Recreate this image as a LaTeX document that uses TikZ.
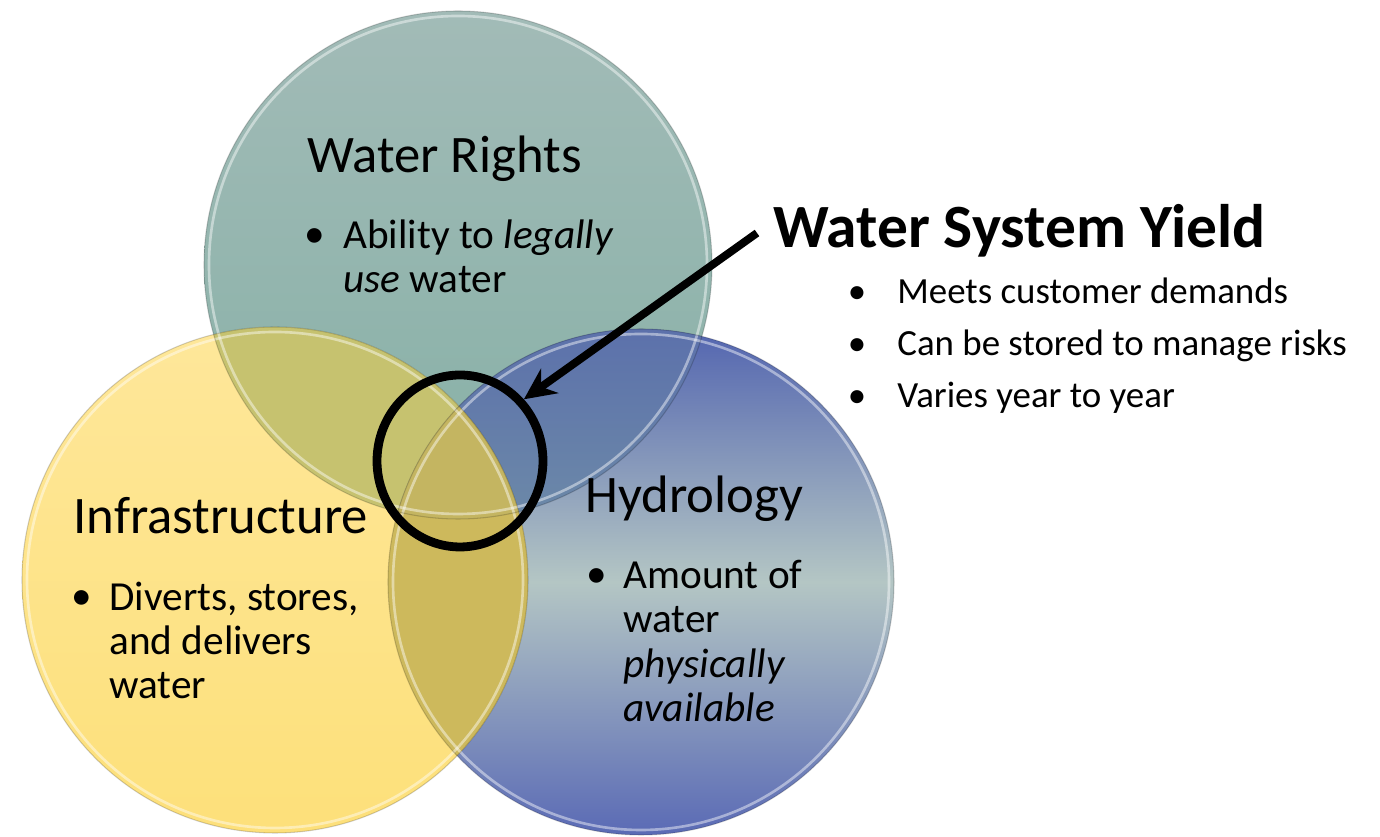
\documentclass[tikz,border=0pt]{standalone}
\usepackage{fontspec}
\setmainfont{Carlito}
\usetikzlibrary{arrows.meta,shapes.geometric}
\definecolor{WRTop}{HTML}{A2BBB7}
\definecolor{WRBottom}{HTML}{86B0A6}
\definecolor{INTop}{HTML}{FEE79A}
\definecolor{INBottom}{HTML}{FDE07A}
\definecolor{HYTop}{HTML}{5365B0}
\definecolor{HYMid}{HTML}{B4C6C4}
\definecolor{HYBottom}{HTML}{5A6AB5}
\definecolor{WRxINFill}{HTML}{C6C26F}
\definecolor{WRxHYTop}{HTML}{5C71AB}
\definecolor{WRxHYBottom}{HTML}{6C89A8}
\definecolor{INxHYFill}{HTML}{CDB95C}
\definecolor{AllFill}{HTML}{C4B561}

\begin{document}
\begin{tikzpicture}[x=0.02cm,y=0.02cm,
  rim/.style={draw=white,draw opacity=.45,line width=1.5pt},
  edge/.style={draw=black,draw opacity=.18,line width=.6pt},
  head/.style={font=\fontsize{30}{36}\selectfont,anchor=base west,inner sep=0pt},
  note/.style={font=\fontsize{23.5}{25.3}\selectfont,anchor=base west,inner sep=0pt,align=left},
  dot/.style={font=\fontsize{23.5}{25.3}\selectfont,anchor=base,inner sep=0pt},
  side/.style={font=\fontsize{21}{25}\selectfont,anchor=base west,inner sep=0pt}]
\path[use as bounding box] (0,0) rectangle (1380,837);
\def\wrc{(458,572) circle (254)}
\def\inc{(275,257) circle (253)}
\def\hyc{(641,255) circle (253)}
% circles
\shade[top color=WRTop,bottom color=WRBottom] \wrc;
\shade[top color=HYTop,bottom color=HYBottom,middle color=HYMid] \hyc;
\shade[top color=INTop,bottom color=INBottom] \inc;
% overlaps
\begin{scope}
\clip \wrc;
\fill[WRxINFill] \inc;
\clip \hyc;
\shade[top color=WRxHYTop,bottom color=WRxHYBottom] (388,318) rectangle (712,508);
\end{scope}
\begin{scope}
\clip \hyc;
\fill[INxHYFill] \inc;
\end{scope}
\begin{scope}
\clip \wrc;
\clip \hyc;
\fill[AllFill] \inc;
\end{scope}
% glass rims
\draw[rim] (458,572) circle (249);
\draw[rim] (641,255) circle (248);
\draw[rim] (275,257) circle (248);
\draw[edge] \wrc;
\draw[edge] \hyc;
\draw[edge] \inc;
% Water Rights
\node[head] (wrHead) at (307,664) {Water Rights};
\node[dot] (wrDot) at (315,589) {\textbullet};
\node[note] (wrNote) at (343,544.5) {Ability to \textit{legally}\\\textit{use} water};
% Infrastructure
\node[head] (inHead) at (73,303) {Infrastructure};
\node[dot] (inDot) at (82,227) {\textbullet};
\node[note] (inNote) at (109,138) {Diverts, stores,\\and delivers\\water};
% Hydrology
\node[head] (hyHead) at (585,324) {Hydrology};
\node[dot] (hyDot) at (597,249) {\textbullet};
\node[note] (hyNote) at (623,115.5) {Amount of\\water\\\textit{physically}\\\textit{available}};
% Water System Yield
\node[font=\fontsize{35}{42}\selectfont\bfseries,anchor=base west,inner sep=0pt] (ysHead) at (773,589) {Water System Yield};
\foreach \txt [count=\i] in {Meets customer demands,Can be stored to manage risks,Varies year to year}{
  \node[side,anchor=base] (ysDot\i) at (857,585-52*\i) {\textbullet};
  \node[side] (ysNote\i) at (897,585-52*\i) {\txt};
}
\node[draw=black,line width=5pt,ellipse,minimum width=3.32cm,minimum height=3.44cm,inner sep=0pt] (ysRing) at (460,376) {};
\coordinate (ysTail) at (757,604);
\draw[line width=4.5pt,-{Stealth[length=18pt,width=17pt]}] (ysTail) -- (ysRing.44);
\end{tikzpicture}
\end{document}
